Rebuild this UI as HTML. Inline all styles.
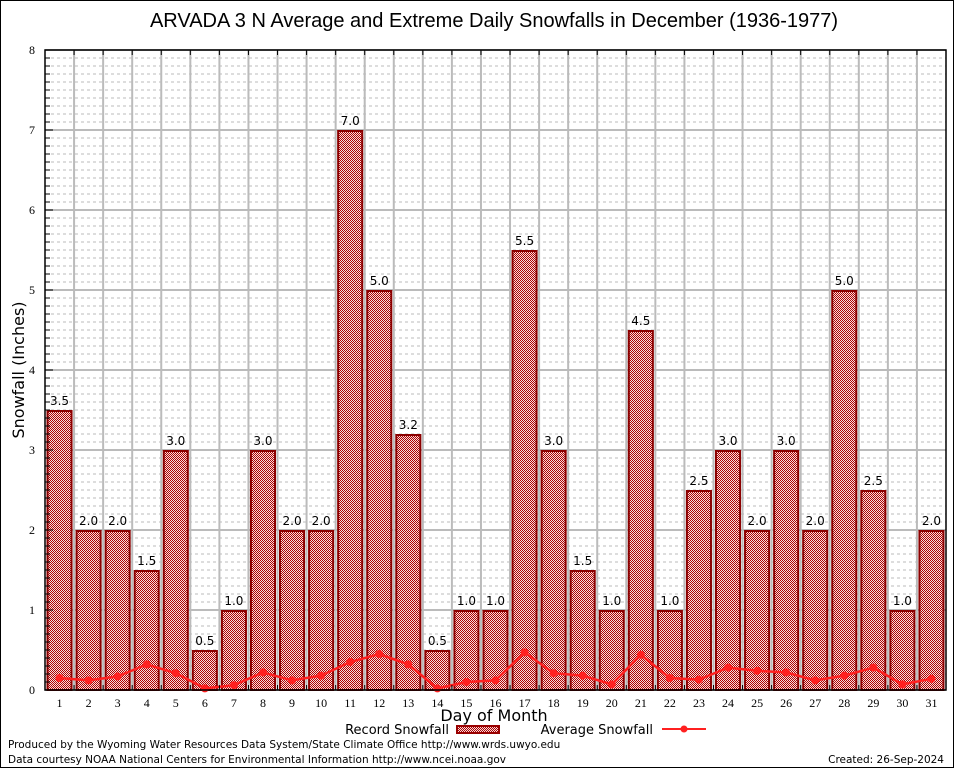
<!DOCTYPE html>
<html><head><meta charset="utf-8"><style>
body{margin:0;background:#fff}
svg{display:block;font-family:"DejaVu Sans","Liberation Sans",sans-serif}
</style></head><body>
<svg id="chart" width="954" height="768">
<defs>
<pattern id="chk" width="2" height="2" patternUnits="userSpaceOnUse">
<rect width="2" height="2" fill="#f4dede"/><rect width="1" height="1" fill="#b00000"/><rect x="1" y="1" width="1" height="1" fill="#b00000"/>
</pattern>
</defs>
<rect x="0.5" y="0.5" width="953" height="767" fill="#fff" stroke="#000"/>
<text x="494" y="27" font-size="20" text-anchor="middle" font-family="Liberation Sans, sans-serif">ARVADA 3 N Average and Extreme Daily Snowfalls in December (1936-1977)</text>
<g id="grid"></g>
<g id="bars"></g>
<g id="line"></g>
<g id="axes"></g>
<text x="24" y="370" font-size="16" text-anchor="middle" transform="rotate(-90 24 370)">Snowfall (Inches)</text>
<text x="494" y="721" font-size="16" text-anchor="middle">Day of Month</text>
<g>
<text x="449" y="734" font-size="13" text-anchor="end">Record Snowfall</text>
<rect x="457" y="726" width="42" height="7" fill="url(#chk)" stroke="#990000" stroke-width="2"/>
<text x="653" y="734" font-size="13" text-anchor="end">Average Snowfall</text>
<line x1="662" y1="729" x2="706" y2="729" stroke="#ff2020" stroke-width="2"/>
<circle cx="684" cy="729" r="3.5" fill="#ff2020"/>
</g>
<text x="8" y="748" font-size="10.5">Produced by the Wyoming Water Resources Data System/State Climate Office http://www.wrds.uwyo.edu</text>
<text x="8" y="763" font-size="10.5">Data courtesy NOAA National Centers for Environmental Information http://www.ncei.noaa.gov</text>
<text x="944" y="763" font-size="10.5" text-anchor="end">Created: 26-Sep-2024</text>
</svg>
<script>
const days = [1,2,3,4,5,6,7,8,9,10,11,12,13,14,15,16,17,18,19,20,21,22,23,24,25,26,27,28,29,30,31];
const records = [3.5,2.0,2.0,1.5,3.0,0.5,1.0,3.0,2.0,2.0,7.0,5.0,3.2,0.5,1.0,1.0,5.5,3.0,1.5,1.0,4.5,1.0,2.5,3.0,2.0,3.0,2.0,5.0,2.5,1.0,2.0];
const averages = [0.15,0.12,0.17,0.32,0.21,0.02,0.06,0.22,0.12,0.18,0.35,0.45,0.32,0.02,0.10,0.12,0.47,0.21,0.18,0.07,0.44,0.15,0.13,0.28,0.24,0.22,0.12,0.18,0.28,0.07,0.14];
const yTicks = [0,1,2,3,4,5,6,7,8];

const NS='http://www.w3.org/2000/svg';
const L=45,R=946,T=50,B=690,YMAX=8;
const slot=(R-L)/days.length;
const y=v=>B-(v/YMAX)*(B-T);
const xc=i=>L+slot*(i+0.5);
function mk(tag,attrs,parent){const e=document.createElementNS(NS,tag);for(const k in attrs)e.setAttribute(k,attrs[k]);parent.appendChild(e);return e;}
const grid=document.getElementById('grid'),bars=document.getElementById('bars'),line=document.getElementById('line'),axes=document.getElementById('axes');

for(let m=1;m<YMAX*10;m++){ if(m%10===0) continue;
  const g=mk('line',{x1:L,x2:R,y1:y(m/10),y2:y(m/10),stroke:'#bbb','stroke-dasharray':'3,3','stroke-width':1},grid);
  
  
  const t=mk('line',{x1:L,x2:L+5,y1:y(m/10),y2:y(m/10),stroke:'#000'},axes);
  
  
}
yTicks.forEach(v=>{
  const g=mk('line',{x1:L,x2:R,y1:y(v),y2:y(v),stroke:'#bbb','stroke-width':2},grid);
  
  
  const t=mk('text',{x:L-10,y:y(v)+4,'font-size':12,'text-anchor':'end','font-family':'Liberation Serif, serif'},axes);
  t.textContent=v;
  
  
  const tk=mk('line',{x1:L,x2:L+8,y1:y(v),y2:y(v),stroke:'#000'},axes);
  
  
});
for(let i=1;i<days.length;i++){
  const x=L+slot*i;
  const g=mk('line',{x1:x,x2:x,y1:T,y2:B,stroke:'#bbb','stroke-width':2},grid);
  
  
  const t1=mk('line',{x1:x,x2:x,y1:T,y2:T+5,stroke:'#000'},axes);
  
  
  const t2=mk('line',{x1:x,x2:x,y1:B,y2:B-5,stroke:'#000'},axes);
  
  
}
days.forEach((d,i)=>{
  const v=records[i];
  const b=mk('rect',{x:L+slot*i+2.5,y:y(v)+1,width:slot-5,height:B-y(v)-1,fill:'url(#chk)',stroke:'#8b0000','stroke-width':2},bars);
  
  
  const lb=mk('text',{x:xc(i),y:y(v)-5,'font-size':12,'text-anchor':'middle'},bars);
  lb.textContent=v.toFixed(1);
  
  
  const xl=mk('text',{x:xc(i),y:B+17,'font-size':12,'text-anchor':'middle','font-family':'Liberation Serif, serif'},axes);
  xl.textContent=d;
  
  
});
const pts=averages.map((v,i)=>xc(i)+','+y(v)).join(' ');
const pl=mk('polyline',{points:pts,fill:'none',stroke:'#ff2020','stroke-width':2.5},line);


averages.forEach((v,i)=>{
  const c=mk('circle',{cx:xc(i),cy:y(v),r:4,fill:'#ff2020'},line);
  
  
});
const fr=mk('rect',{x:L,y:T,width:R-L,height:B-T,fill:'none',stroke:'#000','stroke-width':1.5},axes);


</script>
</body></html>
